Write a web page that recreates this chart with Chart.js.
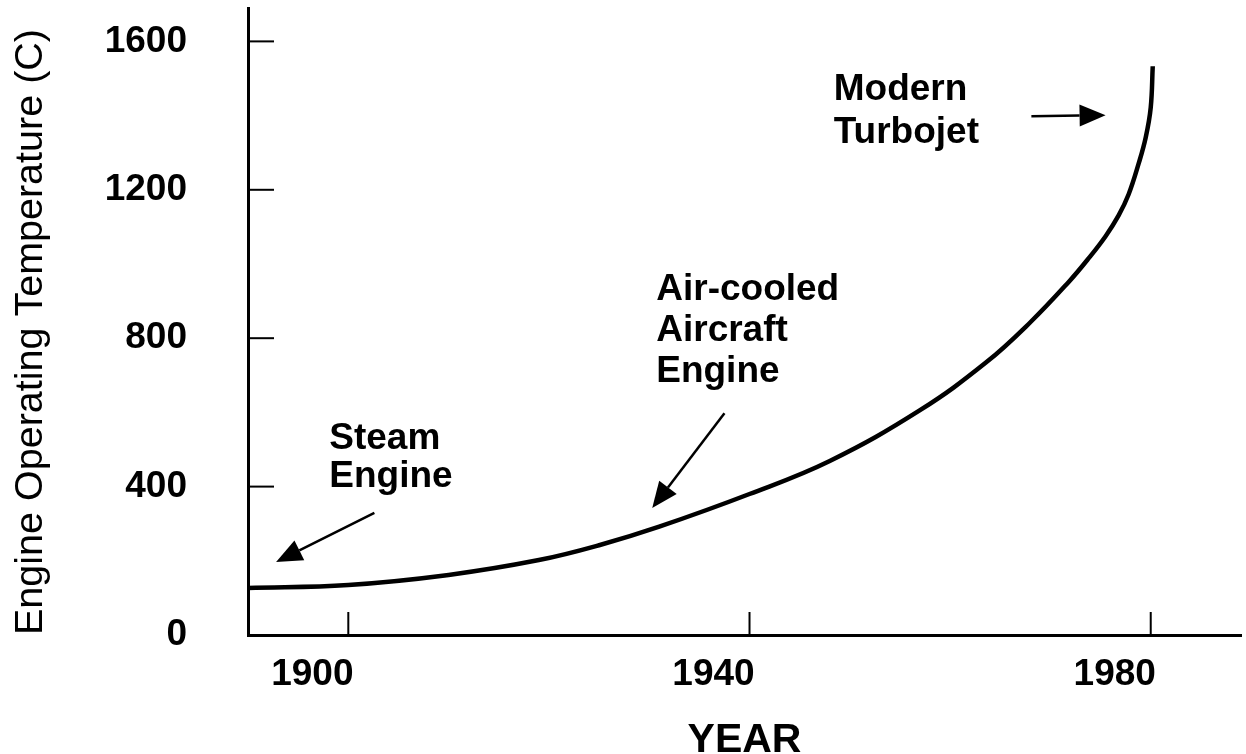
<!DOCTYPE html>
<html>
<head>
<meta charset="utf-8">
<title>Engine Operating Temperature</title>
<script src="https://cdn.jsdelivr.net/npm/chart.js@4"></script>
<style>
  html, body { margin: 0; padding: 0; background: #fff; }
  #wrap { width: 1246px; height: 754px; }
</style>
</head>
<body>
<div id="wrap"><canvas id="chart" width="1246" height="754"></canvas></div>
<script>
// data
const years = [1890, 1900, 1910, 1919, 1925, 1931, 1940, 1948, 1957, 1963.6, 1968, 1971.8, 1973.8, 1975.5, 1976.8, 1977.8, 1978.8, 1979.5, 1980, 1980.2];
const temps = [127, 135, 162, 202, 242, 292, 380, 469, 606, 735, 843, 951, 1015, 1075, 1131, 1188, 1271, 1341, 1422, 1533];

const xTicks = [1900, 1940, 1980];
const yTicks = [0, 400, 800, 1200, 1600];

const yTitle = "Engine Operating Temperature (C)";
const xTitle = "YEAR";

// callouts, anchored in data units (year, temperature)
const notes = [
  { lines: ["Steam", "Engine"], x: 1898.1, y: 501, step: 38,
    from: [1902.6, 329], to: [1892.8, 197] },
  { lines: ["Air-cooled", "Aircraft", "Engine"], x: 1930.7, y: 902, step: 41,
    from: [1937.5, 598], to: [1930.3, 342] },
  { lines: ["Modern", "Turbojet"], x: 1948.4, y: 1441, step: 43,
    from: [1968.1, 1398], to: [1975.5, 1401] }
];

const labelFont = "bold 37px 'Liberation Sans', Arial, sans-serif";

function drawArrow(ctx, x1, y1, x2, y2) {
  const ang = Math.atan2(y2 - y1, x2 - x1);
  const len = 26, half = 11;
  const bx = x2 - len * Math.cos(ang), by = y2 - len * Math.sin(ang);
  ctx.beginPath();
  ctx.moveTo(x1, y1);
  ctx.lineTo(bx, by);
  ctx.stroke();
  ctx.beginPath();
  ctx.moveTo(x2, y2);
  ctx.lineTo(bx + half * Math.sin(ang), by - half * Math.cos(ang));
  ctx.lineTo(bx - half * Math.sin(ang), by + half * Math.cos(ang));
  ctx.closePath();
  ctx.fill();
}

const extras = {
  id: "extras",
  afterDraw(chart) {
    const ctx = chart.ctx;
    const xs = chart.scales.x, ys = chart.scales.y;
    const area = chart.chartArea;
    ctx.save();
    ctx.strokeStyle = "#000";
    ctx.fillStyle = "#000";

    // inward tick marks
    ctx.lineWidth = 2;
    xs.ticks.forEach(t => {
      const px = xs.getPixelForValue(t.value);
      ctx.beginPath();
      ctx.moveTo(px, area.bottom);
      ctx.lineTo(px, area.bottom - 23);
      ctx.stroke();
    });
    ys.ticks.forEach(t => {
      if (t.value === 0) return;
      const py = ys.getPixelForValue(t.value);
      ctx.beginPath();
      ctx.moveTo(area.left, py);
      ctx.lineTo(area.left + 26, py);
      ctx.stroke();
    });

    // callouts
    ctx.font = labelFont;
    ctx.textAlign = "left";
    ctx.textBaseline = "alphabetic";
    notes.forEach(n => {
      const lx = xs.getPixelForValue(n.x);
      const ly = ys.getPixelForValue(n.y);
      n.lines.forEach((s, i) => ctx.fillText(s, lx, ly + i * n.step));
      ctx.lineWidth = 2.5;
      drawArrow(ctx,
        xs.getPixelForValue(n.from[0]), ys.getPixelForValue(n.from[1]),
        xs.getPixelForValue(n.to[0]), ys.getPixelForValue(n.to[1]));
    });
    ctx.restore();
  }
};

new Chart(document.getElementById("chart"), {
  type: "line",
  data: {
    datasets: [{
      data: years.map((yr, i) => ({ x: yr, y: temps[i] })),
      borderColor: "#000",
      borderWidth: 4.5,
      pointRadius: 0,
      fill: false,
      tension: 0.4
    }]
  },
  options: {
    responsive: false,
    animation: false,
    layout: { padding: { top: 8, right: 5, left: 0, bottom: 0 } },
    plugins: { legend: { display: false }, tooltip: { enabled: false } },
    scales: {
      x: {
        type: "linear",
        min: 1890,
        max: 1989,
        afterFit: s => { s.height = 119; },
        afterBuildTicks: s => { s.ticks = xTicks.map(v => ({ value: v })); },
        grid: { display: false },
        border: { display: true, color: "#000", width: 3 },
        ticks: {
          color: "#000",
          padding: 10,
          labelOffset: -36,
          maxRotation: 0,
          font: { family: "'Liberation Sans', Arial, sans-serif", size: 37, weight: "bold" },
          callback: v => String(v)
        },
        title: {
          display: true,
          text: xTitle,
          color: "#000",
          padding: { top: 0, bottom: 0 },
          font: { family: "'Liberation Sans', Arial, sans-serif", size: 41, weight: "bold", lineHeight: 0.65 }
        }
      },
      y: {
        min: 0,
        max: 1690,
        afterFit: s => { s.width = 248; s.paddingTop = 0; s.paddingBottom = 0; },
        afterBuildTicks: s => { s.ticks = yTicks.map(v => ({ value: v })); },
        grid: { display: false },
        border: { display: true, color: "#000", width: 3 },
        ticks: {
          color: "#000",
          padding: 53,
          font: { family: "'Liberation Sans', Arial, sans-serif", size: 37, weight: "bold" },
          callback: v => String(v)
        },
        title: {
          display: true,
          text: yTitle,
          align: "start",
          color: "#000",
          padding: { top: 11, bottom: 0 },
          font: { family: "'Liberation Sans', Arial, sans-serif", size: 39.5, weight: "normal", lineHeight: 1 }
        }
      }
    }
  },
  plugins: [extras]
});
</script>
</body>
</html>
